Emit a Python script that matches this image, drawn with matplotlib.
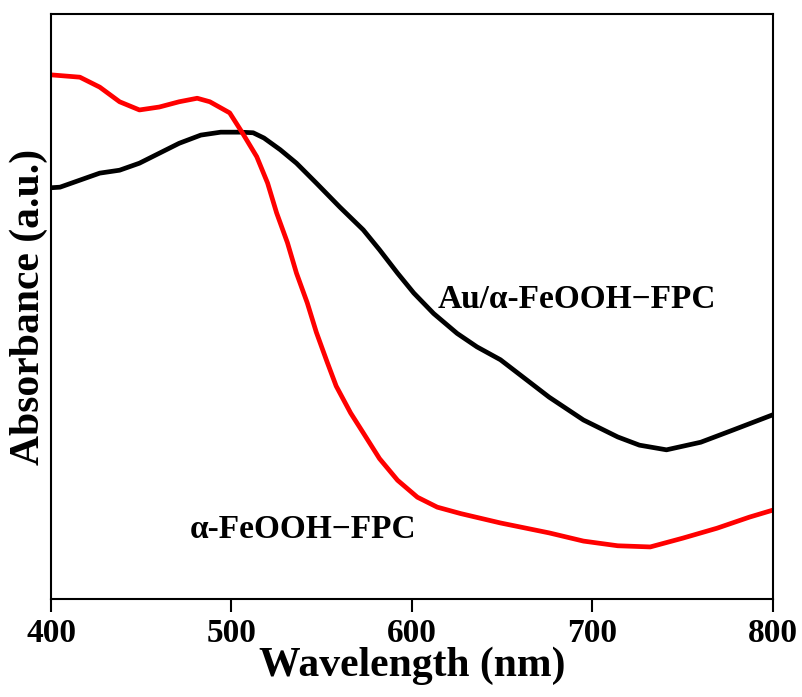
import matplotlib
matplotlib.use('Agg')
import matplotlib.pyplot as plt

plt.rcParams['font.family'] = ['Liberation Serif', 'DejaVu Serif']
plt.rcParams['font.weight'] = 'bold'

# UV-vis absorbance spectra (a.u.)
wl_fpc = [400, 416, 427, 438, 449, 460, 471, 481, 488, 499, 506, 514, 520,
          525, 531, 536, 542, 547, 553, 558, 566, 573, 582, 592, 603, 614,
          627, 649, 676, 695, 714, 732, 750, 769, 787, 800]
abs_fpc = [0.896, 0.892, 0.875, 0.850, 0.836, 0.841, 0.850, 0.856, 0.850,
           0.831, 0.797, 0.756, 0.711, 0.660, 0.609, 0.557, 0.506, 0.456,
           0.405, 0.364, 0.318, 0.284, 0.240, 0.203, 0.174, 0.157, 0.146,
           0.130, 0.113, 0.099, 0.091, 0.089, 0.104, 0.121, 0.140, 0.152]

wl_au = [400, 405, 416, 427, 438, 449, 460, 471, 483, 494, 505, 512, 518,
         527, 536, 547, 560, 573, 582, 592, 601, 612, 625, 636, 649, 676,
         695, 714, 726, 741, 760, 778, 800]
abs_au = [0.703, 0.704, 0.716, 0.728, 0.733, 0.745, 0.762, 0.779, 0.793,
          0.798, 0.798, 0.797, 0.788, 0.768, 0.745, 0.711, 0.670, 0.631,
          0.597, 0.557, 0.523, 0.488, 0.454, 0.431, 0.409, 0.345, 0.306,
          0.277, 0.263, 0.255, 0.268, 0.289, 0.315]

xticks = [400, 500, 600, 700, 800]

fig = plt.figure(figsize=(8.02, 6.97), dpi=100)
ax = fig.add_axes([0.0636, 0.1406, 0.9002, 0.8393])

ax.plot(wl_au, abs_au, color='black', lw=3.4, solid_joinstyle='round')
ax.plot(wl_fpc, abs_fpc, color='#ff0000', lw=3.4, solid_joinstyle='round')

ax.text(614, 0.497, 'Au/α-FeOOH−FPC', fontsize=24, fontweight='bold')
ax.text(477, 0.104, 'α-FeOOH−FPC', fontsize=24, fontweight='bold')

ax.set_xlim(400, 800)
ax.set_ylim(0, 1)
ax.set_xticks(xticks)
ax.set_yticks([])
ax.tick_params(axis='x', direction='out', length=9, width=1.5, labelsize=24, pad=5)
for s in ax.spines.values():
    s.set_linewidth(1.5)

ax.set_xlabel('Wavelength (nm)', fontsize=30, fontweight='bold', labelpad=-2)
ax.set_ylabel('Absorbance (a.u.)', fontsize=30, fontweight='bold', labelpad=2)

fig.savefig('out.png', dpi=100)
